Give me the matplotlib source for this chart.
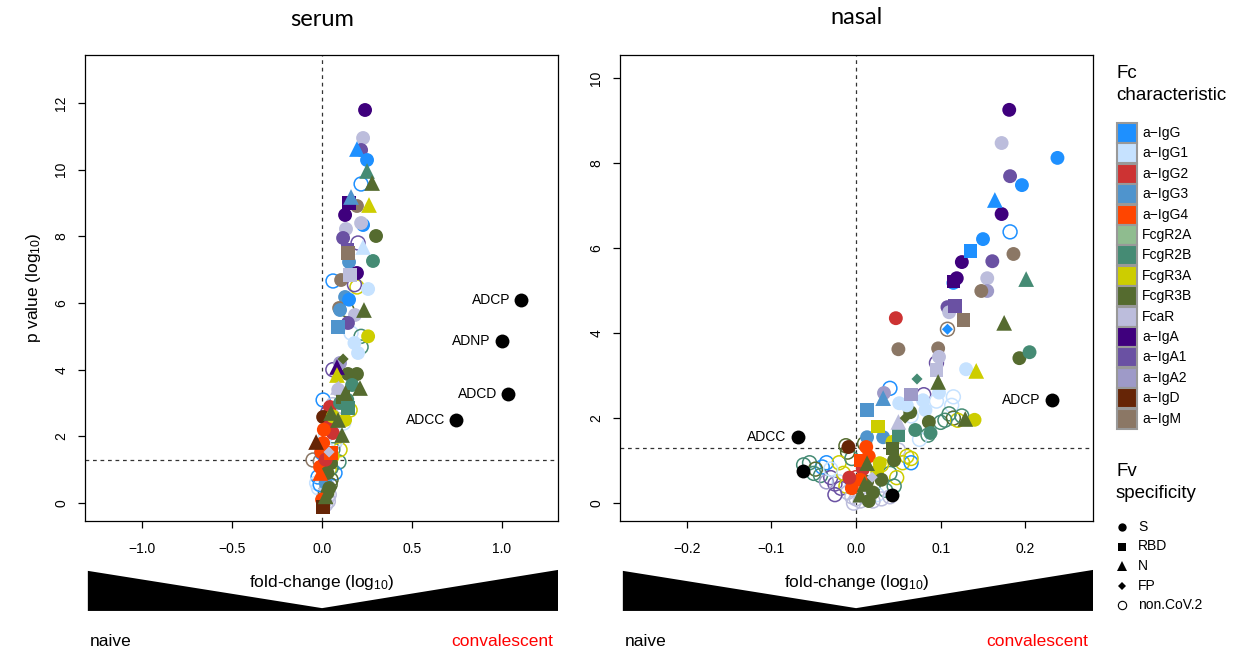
import numpy as np
import matplotlib.pyplot as plt
from matplotlib.patches import Rectangle, Polygon
from matplotlib.lines import Line2D

plt.rcParams['font.family'] = ['Liberation Sans', 'DejaVu Sans']
plt.rcParams['mathtext.fontset'] = 'custom'
plt.rcParams['mathtext.rm'] = 'Liberation Sans'
plt.rcParams['mathtext.it'] = 'Liberation Sans:italic'

# Fc characteristic -> colour
fc_keys = ['G', 'G1', 'G2', 'G3', 'G4', 'R2A', 'R2B', 'R3A', 'R3B', 'aR', 'A', 'A1', 'A2', 'D', 'M']
fc_names = ['a\u2212IgG', 'a\u2212IgG1', 'a\u2212IgG2', 'a\u2212IgG3', 'a\u2212IgG4', 'FcgR2A', 'FcgR2B',
            'FcgR3A', 'FcgR3B', 'FcaR', 'a\u2212IgA', 'a\u2212IgA1', 'a\u2212IgA2', 'a\u2212IgD', 'a\u2212IgM']
fc_colors = ['#1E90FF', '#C6E2FF', '#CD3333', '#4F94CD', '#FF4500', '#8FBC8F', '#458B74',
             '#CDCD00', '#556B2F', '#BCBDDC', '#3F007D', '#6A51A3', '#9E9AC8', '#662506', '#8B7765']
fv_names = ['S', 'RBD', 'N', 'FP', 'non.CoV.2']

# ---- serum: (log10 fold change, -log10 p, Fc characteristic) ----
serum_S = [
    (0.239, 11.79, 'A'), (0.228, 10.95, 'aR'), (0.217, 10.59, 'A1'), (0.250, 10.29, 'G'),
    (0.128, 8.64, 'A'), (0.194, 8.91, 'M'), (0.228, 8.34, 'G'), (0.217, 8.40, 'aR'),
    (0.133, 8.22, 'aR'), (0.117, 7.95, 'A1'), (0.300, 8.01, 'R3B'), (0.150, 7.23, 'G3'),
    (0.283, 7.26, 'R2B'), (0.194, 6.90, 'A'), (0.106, 6.69, 'M'), (0.256, 6.42, 'G1'),
    (0.128, 6.18, 'G3'), (0.095, 5.85, 'M'), (0.100, 5.79, 'G3'), (0.183, 5.64, 'aR'),
    (0.144, 5.40, 'A1'), (0.256, 5.00, 'R3A'), (0.180, 4.80, 'G1'), (0.200, 4.50, 'G1'),
    (0.100, 4.20, 'A2'), (0.144, 3.87, 'R3B'), (0.194, 3.87, 'R3B'), (0.167, 3.54, 'R2B'),
    (0.044, 2.88, 'G2'), (0.128, 2.49, 'R3A'), (0.006, 2.58, 'D'), (0.060, 2.10, 'G2'),
    (0.006, 1.80, 'G4'), (-0.005, 1.53, 'G4'), (-0.011, 1.08, 'G4'), (0.050, 1.20, 'R3B'),
    (0.020, 0.60, 'G3'), (0.030, 0.30, 'R3B'), (0.000, 0.10, 'G4'), (0.100, 3.00, 'R2B'),
    (0.040, 2.30, 'G2'), (0.090, 3.40, 'aR'), (0.150, 6.10, 'G'), (0.030, 0.90, 'R3B'),
    (0.040, 0.45, 'R3B'), (0.010, 2.20, 'G4'), (0.020, 1.30, 'G2'), (0.060, 2.60, 'R3A'),
    (0.140, 3.10, 'R2B'),
]
serum_RBD = [
    (0.150, 9.00, 'A'), (0.140, 7.60, 'A1'), (0.144, 7.50, 'M'), (0.156, 6.84, 'aR'),
    (0.089, 5.28, 'G3'), (0.117, 3.18, 'R3B'), (0.144, 2.85, 'R2B'), (0.006, -0.12, 'D'),
    (0.050, 1.50, 'G4'),
]
serum_N = [
    (0.194, 10.62, 'G'), (0.250, 9.96, 'R2B'), (0.278, 9.60, 'R3B'), (0.161, 9.18, 'G3'),
    (0.261, 8.94, 'R3A'), (0.228, 7.68, 'G1'), (0.233, 5.79, 'R3B'), (0.083, 4.08, 'A'),
    (0.083, 3.84, 'R3A'), (0.089, 3.48, 'aR'), (0.211, 3.45, 'R3B'), (0.130, 3.30, 'R3B'),
    (0.089, 2.49, 'R3B'), (0.111, 2.04, 'R3B'), (-0.033, 1.83, 'D'), (-0.010, 0.90, 'G4'),
    (0.020, 0.20, 'R3B'), (0.050, 2.70, 'R3B'),
]
serum_FP = [(0.117, 4.32, 'R3B'), (0.083, 3.78, 'R3A'), (0.039, 1.53, 'aR')]
serum_open = [
    (0.217, 9.57, 'G'), (0.200, 7.80, 'A1'), (0.061, 6.66, 'G'), (0.194, 6.48, 'R3A'),
    (0.180, 6.55, 'A1'), (0.139, 5.79, 'R3B'), (0.161, 5.10, 'G1'), (0.217, 5.00, 'R2B'),
    (0.217, 4.68, 'R2B'), (0.060, 4.00, 'A1'), (0.006, 3.09, 'G'), (0.060, 2.95, 'aR'),
    (0.156, 2.79, 'R3A'), (0.120, 2.40, 'G1'), (0.070, 1.80, 'aR'), (-0.050, 1.29, 'M'),
    (0.094, 1.23, 'R2B'), (-0.022, 0.78, 'G'), (0.072, 0.90, 'G'), (0.030, 0.50, 'aR'),
    (0.010, 0.00, 'aR'), (0.010, 0.20, 'aR'), (0.020, 0.35, 'R3B'), (-0.020, 0.45, 'G1'),
    (0.040, 1.00, 'R3A'), (0.000, 1.50, 'G'), (0.060, 1.60, 'R2B'), (0.020, 2.00, 'G1'),
    (0.100, 1.60, 'R3A'), (0.015, 0.10, 'aR'), (0.020, -0.05, 'aR'), (-0.030, 0.60, 'G1'),
    (0.050, 0.70, 'R3B'), (0.030, 0.15, 'aR'), (0.040, 0.25, 'aR'), (0.035, 0.05, 'aR'),
    (0.025, 0.40, 'aR'), (0.045, 0.55, 'R3B'), (0.015, 0.85, 'G'), (0.050, 1.05, 'R2B'),
    (-0.010, 1.25, 'M'), (0.055, 1.40, 'R3A'), (0.080, 1.90, 'G1'), (0.030, 2.70, 'A1'),
    (0.110, 2.90, 'aR'), (-0.010, 0.55, 'G'),
]
serum_func = [(1.106, 6.09, 'ADCP'), (1.000, 4.86, 'ADNP'), (1.033, 3.27, 'ADCD'), (0.744, 2.49, 'ADCC')]

# ---- nasal ----
nasal_S = [
    (0.181, 9.25, 'A'), (0.172, 8.47, 'aR'), (0.238, 8.12, 'G'), (0.182, 7.69, 'A1'),
    (0.196, 7.48, 'G'), (0.172, 6.80, 'A'), (0.150, 6.21, 'G'), (0.186, 5.86, 'M'),
    (0.125, 5.67, 'A'), (0.161, 5.69, 'A1'), (0.115, 5.18, 'G'), (0.119, 5.29, 'A'),
    (0.155, 5.29, 'aR'), (0.155, 4.99, 'A2'), (0.148, 4.99, 'M'), (0.108, 4.61, 'A1'),
    (0.110, 4.49, 'aR'), (0.047, 4.35, 'G2'), (0.193, 3.41, 'R3B'), (0.205, 3.55, 'R2B'),
    (0.130, 3.15, 'G1'), (0.140, 1.96, 'R3A'), (0.050, 3.62, 'M'), (0.097, 3.64, 'M'),
    (0.098, 3.44, 'aR'), (0.033, 2.59, 'A2'), (0.051, 2.35, 'G1'), (0.079, 2.42, 'G1'),
    (0.082, 2.19, 'G1'), (0.064, 2.14, 'R3B'), (0.086, 1.91, 'R3B'), (0.070, 1.72, 'R2B'),
    (0.088, 1.65, 'R2B'), (0.013, 1.55, 'G3'), (0.032, 1.55, 'G3'), (0.043, 1.44, 'R3A'),
    (-0.009, 1.32, 'D'), (0.012, 1.32, 'G4'), (0.015, 1.10, 'G4'), (0.045, 1.01, 'R3B'),
    (0.028, 0.94, 'R3A'), (0.013, 0.50, 'R3B'), (0.008, 0.80, 'G2'), (0.005, 0.55, 'G4'),
    (-0.005, 0.35, 'G4'), (0.020, 0.25, 'R3B'), (0.025, 0.75, 'R3A'), (0.098, 2.60, 'G1'),
    (0.060, 2.30, 'G1'), (0.015, 0.05, 'R3B'), (-0.008, 0.60, 'G2'), (0.030, 0.55, 'R3B'),
]
nasal_RBD = [
    (0.135, 5.93, 'G'), (0.115, 5.22, 'A'), (0.117, 4.64, 'A1'), (0.127, 4.31, 'M'),
    (0.095, 3.13, 'aR'), (0.065, 2.56, 'A2'), (0.013, 2.19, 'G3'), (0.026, 1.81, 'R3A'),
    (0.050, 1.60, 'R2B'), (0.043, 1.29, 'R3B'), (0.005, 1.00, 'G4'),
]
nasal_N = [
    (0.164, 7.13, 'G'), (0.201, 5.27, 'R2B'), (0.175, 4.24, 'R3B'), (0.142, 3.11, 'R3A'),
    (0.097, 2.85, 'R3B'), (0.032, 2.47, 'G3'), (0.050, 1.91, 'aR'), (0.129, 1.98, 'R3B'),
    (0.013, 0.94, 'R3B'), (0.010, 0.45, 'R3B'), (0.005, 0.20, 'R3B'),
]
nasal_FP = [(0.108, 4.09, 'G'), (0.072, 2.92, 'R2B'), (0.058, 2.00, 'R3B'), (0.019, 0.61, 'aR')]
nasal_open = [
    (0.182, 6.38, 'G'), (0.108, 4.09, 'M'), (0.095, 3.30, 'A1'), (0.040, 2.70, 'G'),
    (0.080, 2.55, 'A1'), (0.095, 2.40, 'G1'), (0.115, 2.50, 'G1'), (0.113, 2.30, 'G1'),
    (0.065, 2.05, 'G1'), (0.100, 1.90, 'R2B'), (0.085, 1.60, 'R2B'), (0.110, 2.10, 'R2B'),
    (0.115, 2.00, 'R3B'), (0.120, 1.95, 'R3A'), (0.105, 1.95, 'R2B'), (0.125, 2.05, 'R2B'),
    (0.075, 1.50, 'G1'), (0.050, 1.25, 'aR'), (0.060, 1.10, 'R3A'), (0.055, 0.95, 'R3A'),
    (0.065, 0.95, 'G'), (0.040, 0.70, 'R2B'), (0.035, 0.30, 'R2B'), (0.048, 0.60, 'R3A'),
    (-0.010, 1.20, 'R3B'), (-0.012, 1.35, 'R3B'), (-0.035, 0.95, 'G'), (-0.040, 0.85, 'G'),
    (-0.055, 0.95, 'R2B'), (-0.062, 0.90, 'R2B'), (-0.048, 0.80, 'R3B'), (-0.042, 0.65, 'R2B'),
    (-0.030, 0.60, 'A1'), (-0.025, 0.45, 'A1'), (-0.020, 0.50, 'G1'), (-0.018, 0.35, 'A1'),
    (-0.012, 0.40, 'R3A'), (-0.010, 0.25, 'aR'), (-0.005, 0.15, 'aR'), (0.000, 0.10, 'aR'),
    (0.005, 0.05, 'aR'), (0.010, 0.15, 'aR'), (0.015, 0.10, 'aR'), (0.008, 0.30, 'R2B'),
    (-0.015, 0.70, 'R3A'), (0.020, 0.40, 'R2B'), (0.025, 0.20, 'G1'), (-0.003, 0.00, 'aR'),
    (0.030, 0.90, 'R3A'), (0.010, 1.40, 'R3B'), (-0.020, 0.95, 'R3A'), (0.000, 0.60, 'G2'),
    (-0.005, 1.05, 'R2B'), (0.030, 0.10, 'aR'), (0.020, 0.05, 'aR'), (0.040, 0.15, 'aR'),
    (-0.025, 0.20, 'A1'), (-0.035, 0.50, 'A2'), (-0.050, 0.70, 'R2B'), (-0.030, 0.80, 'G1'),
    (0.045, 0.40, 'R2B'), (0.065, 1.05, 'R3A'),
]
nasal_func = [(0.231, 2.42, 'ADCP'), (-0.069, 1.55, 'ADCC'), (-0.063, 0.75, ''), (0.043, 0.19, '')]

W, H = 1237, 653
fig = plt.figure(figsize=(W / 100, H / 100), dpi=100)


def col(k):
    return fc_colors[fc_keys.index(k)]


def draw_panel(ax, S, RBD, N, FP, opn, func, xlim, ylim, xticks, yticks):
    x, y, c = zip(*opn)
    ax.scatter(x, y, s=100, facecolors='none', edgecolors=[col(k) for k in c], linewidths=1.1, zorder=3)
    for pts, m, sz in [(S, 'o', 100), (RBD, 's', 92), (N, '^', 128), (FP, 'D', 32)]:
        x, y, c = zip(*pts)
        ax.scatter(x, y, s=sz, marker=m, c=[col(k) for k in c], linewidths=0, zorder=3)
    x, y, lab = zip(*func)
    ax.scatter(x, y, s=100, c='black', linewidths=0, zorder=4)
    for xi, yi, t in func:
        if t:
            ax.annotate(t, (xi, yi), xytext=(-8, 0), textcoords='offset points',
                        ha='right', va='center', fontsize=10)
    ax.axvline(0, color='#333333', lw=0.9, ls=(0, (3, 3)), zorder=1)
    ax.axhline(1.3, color='#333333', lw=0.9, ls=(0, (3, 3)), zorder=1)
    ax.set_xlim(xlim)
    ax.set_ylim(ylim)
    ax.set_xticks(xticks)
    ax.set_yticks(yticks)
    ax.set_xticklabels(['%.1f' % v if v >= 0 else '\u2212%.1f' % -v for v in xticks])
    ax.set_yticklabels([str(v) for v in yticks], rotation=90, va='center')
    ax.tick_params(direction='out', length=5, width=0.9, labelsize=10)
    ax.tick_params(axis='x', pad=10)
    ax.tick_params(axis='y', pad=7)
    for sp in ax.spines.values():
        sp.set_linewidth(0.9)
    # naive -> convalescent wedge below the axis
    notch = (0 - xlim[0]) / (xlim[1] - xlim[0])
    wedge = Polygon([(0.006, -0.107), (notch, -0.187), (1.0, -0.105), (1.0, -0.193), (0.006, -0.193)],
                    closed=True, transform=ax.transAxes, clip_on=False, facecolor='black', edgecolor='none')
    ax.add_patch(wedge)
    ax.text(0.5, -0.131, 'fold-change (log$_{10}$)', transform=ax.transAxes,
            ha='center', va='center', fontsize=12.5)
    ax.text(0.01, -0.258, 'naive', transform=ax.transAxes, ha='left', va='center', fontsize=12.5)
    ax.text(0.99, -0.258, 'convalescent', transform=ax.transAxes, ha='right', va='center',
            fontsize=12.5, color='#FF0000')


ax1 = fig.add_axes([85 / W, 1 - 521 / H, 473 / W, 466 / H])
draw_panel(ax1, serum_S, serum_RBD, serum_N, serum_FP, serum_open, serum_func,
           (-1.317, 1.311), (-0.54, 13.44), [-1.0, -0.5, 0.0, 0.5, 1.0], [0, 2, 4, 6, 8, 10, 12])
ax1.set_ylabel('p value (log$_{10}$)', fontsize=12.5, labelpad=8)

ax2 = fig.add_axes([620 / W, 1 - 521 / H, 473 / W, 466 / H])
draw_panel(ax2, nasal_S, nasal_RBD, nasal_N, nasal_FP, nasal_open, nasal_func,
           (-0.279, 0.280), (-0.42, 10.54), [-0.2, -0.1, 0.0, 0.1, 0.2], [0, 2, 4, 6, 8, 10])

fig.text(322 / W, 1 - 20 / H, 'serum', ha='center', va='center', fontsize=17, family='Lato')
fig.text(857 / W, 1 - 18 / H, 'nasal', ha='center', va='center', fontsize=17, family='Lato')

# Fc legend
fig.text(1116 / W, 1 - 73 / H, 'Fc', fontsize=13.5, va='center', ha='left')
fig.text(1116 / W, 1 - 96 / H, 'characteristic', fontsize=13.5, va='center', ha='left')
for i, (name, c) in enumerate(zip(fc_names, fc_colors)):
    yc = 133 + i * 20.4
    fig.patches.append(Rectangle((1117 / W, 1 - (yc + 10) / H), 20 / W, 20 / H, transform=fig.transFigure,
                                 facecolor=c, edgecolor='#999999', linewidth=1.5))
    fig.text(1142 / W, 1 - yc / H, name, fontsize=10, va='center', ha='left')

# Fv legend
fig.text(1116 / W, 1 - 471 / H, 'Fv', fontsize=13.5, va='center', ha='left')
fig.text(1116 / W, 1 - 494 / H, 'specificity', fontsize=13.5, va='center', ha='left')
fv_marks = [('o', 6, 'black'), ('s', 5.5, 'black'), ('^', 6.5, 'black'), ('D', 4, 'black'), ('o', 6, 'none')]
for i, (name, (m, ms, fcol)) in enumerate(zip(fv_names, fv_marks)):
    yc = 527 + i * 19.5
    fig.lines.append(Line2D([1122 / W], [1 - yc / H], marker=m, markersize=ms, markerfacecolor=fcol,
                            markeredgecolor='black', markeredgewidth=0.8 if fcol == 'none' else 0,
                            linestyle='none', transform=fig.transFigure))
    fig.text(1138 / W, 1 - yc / H, name, fontsize=10, va='center', ha='left')

fig.savefig('out.png', dpi=100)
